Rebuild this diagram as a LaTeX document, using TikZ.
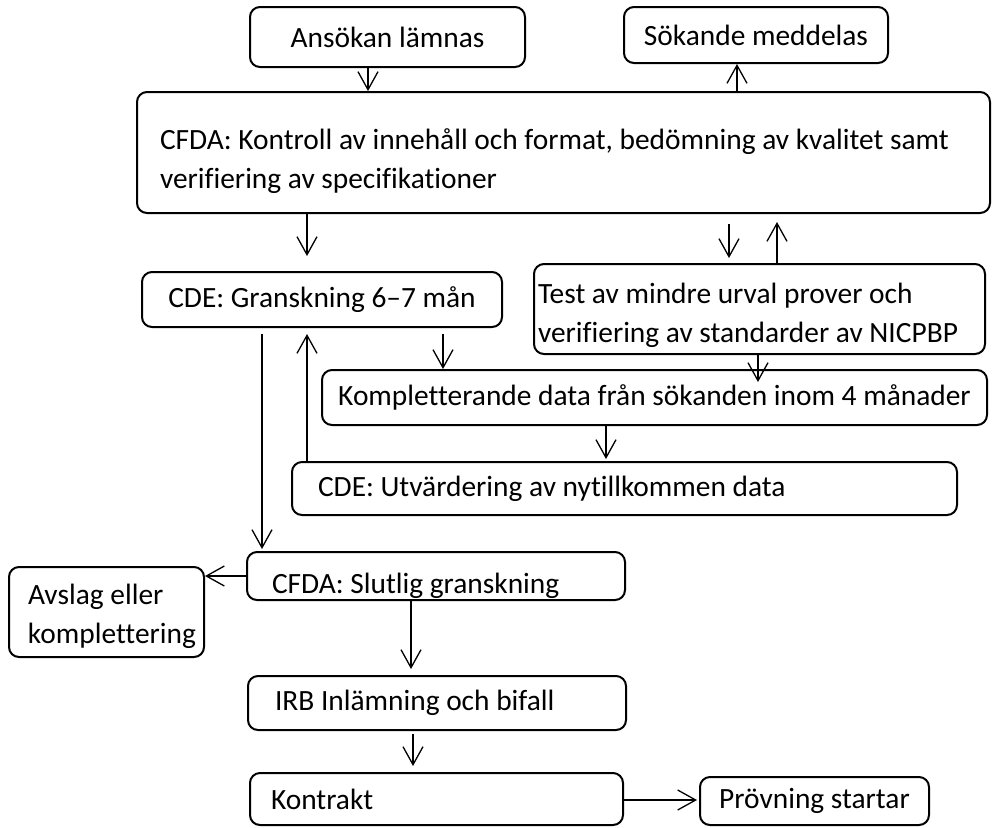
\documentclass[tikz,border=0pt]{standalone}
\usepackage{fontspec}
\setmainfont{Carlito}[Ligatures=CommonOff]
\usetikzlibrary{arrows.meta}

\begin{document}
\begin{tikzpicture}[
  x=0.5pt, y=-0.5pt,
  stage/.style={
    draw,
    rounded corners=5pt,
    line width=1pt,
    inner sep=0pt,
    align=center,
    font=\fontsize{14.7pt}{19.5pt}\selectfont,
  },
  left stage/.style 2 args={
    stage,
    text width=#1,
    align=flush left,
    execute at begin node={\leftskip=#2\relax},
  },
  arr/.style={
    -{Straight Barb[length=9pt,width=10pt]},
    line width=0.65pt,
  },
  ]
  \useasboundingbox (0,0) rectangle (992,827);

  % top row
  \node[stage,minimum width=137.5pt,minimum height=30pt] (ansokan)
  at (387.5,37) {Ansökan lämnas};
  \node[stage,minimum width=132pt,minimum height=28pt] (sokande)
  at (756,35) {Sökande meddelas};

  \node[left stage={426.5pt}{11.5pt},minimum height=60.5pt] (cfda)
  at (563.5,152.5) {\rule{0pt}{19pt}CFDA: Kontroll av innehåll och format, bedömning av kvalitet samt\\
    verifiering av specifikationer};

  % middle part
  \node[stage,minimum width=180pt,minimum height=27.5pt] (gransk)
  at (322,299.5) {CDE: Granskning 6–7 mån};
  \node[left stage={225.5pt}{2pt},minimum height=45pt] (test)
  at (759.5,309) {\rule{0pt}{17pt}Test av mindre urval prover och\\
    verifiering av standarder av NICPBP};
  \node[stage,minimum width=332.5pt,minimum height=27.5pt] (kompl)
  at (654.5,397.5) {Kompletterande data från sökanden inom 4 månader};
  \node[left stage={332.5pt}{13pt},minimum height=26.5pt] (utv)
  at (624.5,488.5) {CDE: Utvärdering av nytillkommen data};

  % lower part
  \node[left stage={189pt}{12.5pt},minimum height=24pt] (slutlig)
  at (436,576) {\raisebox{-5pt}[\height][\depth]{CFDA: Slutlig granskning}};
  \node[left stage={97.5pt}{9.5pt},minimum height=45pt] (avslag)
  at (106.5,612) {\rule{0pt}{15pt}Avslag eller\\ komplettering};
  \node[left stage={189pt}{13.5pt},minimum height=27pt] (irb)
  at (437,703) {IRB Inlämning och bifall};
  \node[left stage={186.5pt}{10.5pt},minimum height=26pt] (kontrakt)
  at (436.5,799) {Kontrakt};
  \node[stage,minimum width=114.5pt,minimum height=24pt] (provning)
  at (814.5,801) {Prövning startar};

  \draw[arr] (ansokan.south -| 368,0) -- (cfda.north -| 368,0);
  \draw[arr] (cfda.north -| 737,0) -- (sokande.south -| 737,0);
  \draw[arr,shorten >=7.5pt] (cfda.south -| 307,0) -- (gransk.north -| 307,0);
  \draw[arr,shorten <=5pt,shorten >=2.5pt] (cfda.south -| 729,0) -- (test.north -| 729,0);
  \draw[arr,shorten >=4pt] (test.north -| 777,0) -- (cfda.south -| 777,0);
  \draw[arr,shorten <=3pt] (gransk.south -| 443,0) -- (kompl.north -| 443,0);
  \draw[arr,shorten >=-6.5pt] (test.south -| 758,0) -- (kompl.north -| 758,0);
  \draw[arr,shorten >=1pt] (kompl.south -| 606,0) -- (utv.north -| 606,0);
  \draw[arr,shorten >=3pt] (utv.north -| 307,0) -- (gransk.south -| 307,0);
  \draw[arr,shorten <=3pt,shorten >=1pt] (gransk.south -| 262,0) -- (slutlig.north -| 262,0);
  \draw[arr] (slutlig.west |- 0,576) -- (avslag.east |- 0,576);
  \draw[arr,shorten >=3pt] (slutlig.south -| 411,0) -- (irb.north -| 411,0);
  \draw[arr,shorten <=1.5pt,shorten >=3pt] (irb.south -| 413,0) -- (kontrakt.north -| 413,0);
  \draw[arr,shorten >=1pt] (kontrakt.east |- 0,800) -- (provning.west |- 0,800);
\end{tikzpicture}
\end{document}
